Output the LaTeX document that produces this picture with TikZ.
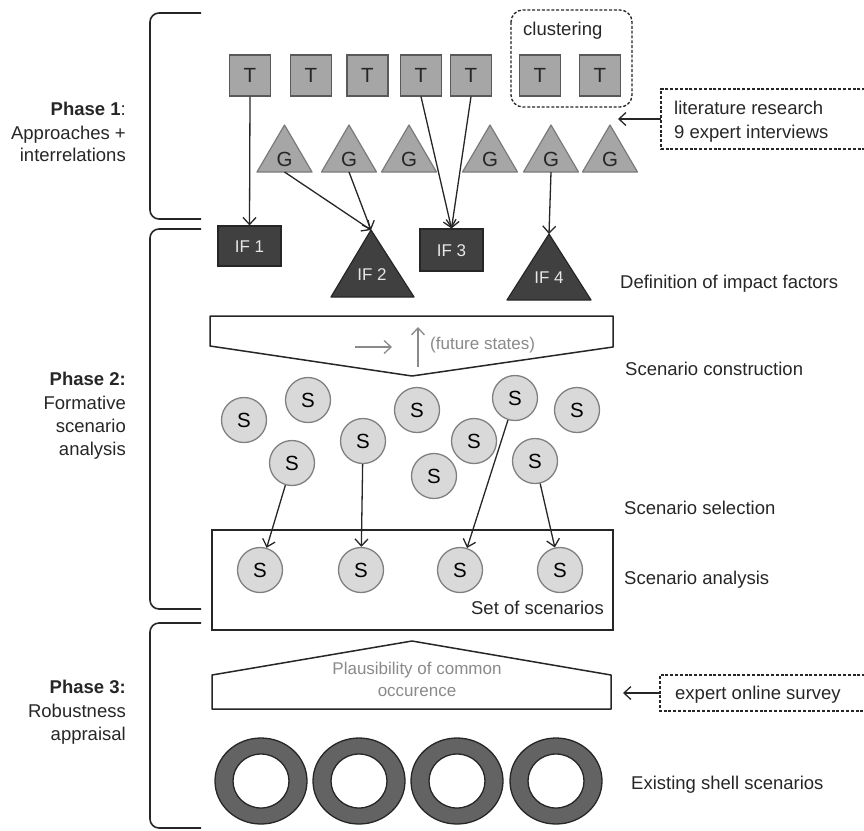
\documentclass[tikz,border=0pt]{standalone}
\usepackage{fontspec}
\setmainfont{Liberation Sans}
\usetikzlibrary{arrows.meta,calc}

\definecolor{ink}{HTML}{262626}
\definecolor{midgray}{HTML}{8A8A8A}
\definecolor{tfill}{HTML}{A6A6A6}
\definecolor{tline}{HTML}{595959}
\definecolor{gline}{HTML}{7A7A7A}
\definecolor{iffill}{HTML}{404040}
\definecolor{ifline}{HTML}{262626}
\definecolor{iftext}{HTML}{E6E6E6}
\definecolor{sfill}{HTML}{D9D9D9}
\definecolor{sline}{HTML}{808080}
\definecolor{ringfill}{HTML}{636363}

\newcommand{\mainsz}{\fontsize{18.5pt}{22pt}\selectfont}
\newcommand{\smallsz}{\fontsize{17pt}{20pt}\selectfont}
\newcommand{\lettersz}{\fontsize{20.5pt}{24pt}\selectfont}

\begin{document}
\begin{tikzpicture}[x=1pt,y=-1pt,
  lbl/.style={inner sep=0pt, text height=13.2pt, text depth=0pt, font=\mainsz, text=ink},
  letter/.style={inner sep=0pt, text height=14.6pt, text depth=0pt, font=\lettersz, text=ink},
  glbl/.style={inner sep=0pt, text height=12.4pt, text depth=0pt, font=\smallsz, text=midgray},
  tbox/.style={draw=tline, fill=tfill, line width=1.2pt, minimum size=41pt, inner sep=0pt,
               text height=14.6pt, text depth=0pt, font=\lettersz, text=ink},
  gshape/.style={draw=gline, fill=tfill, line width=1.2pt, line join=round},
  ifbox/.style={draw=ifline, fill=iffill, line width=1.2pt, minimum width=63pt, inner sep=0pt,
               text height=12.2pt, text depth=0pt, font=\smallsz, text=iftext},
  iftri/.style={draw=ifline, fill=iffill, line width=1.2pt, line join=round},
  scirc/.style={circle, draw=sline, fill=sfill, line width=1.3pt, minimum size=45pt, inner sep=0pt,
               text height=14.6pt, text depth=0pt, font=\lettersz, text=black},
  arr/.style={draw=ink, line width=1.3pt, -{Straight Barb[length=7pt,width=13pt]}},
  garr/.style={draw=midgray, line width=1.3pt, -{Straight Barb[length=7pt,width=13pt]}},
  brk/.style={draw=ink, line width=1.6pt, rounded corners=9pt},
  outline/.style={draw=ink, line width=1.5pt, line join=round},
  dashframe/.style={draw=ink, line width=1.3pt, dash pattern=on 3pt off 1.8pt}
]
\useasboundingbox (0,0) rectangle (864,830);

% ---------- phase brackets ----------
\draw[brk] (201,13) -- (150,13) -- (150,219) -- (201,219);
\draw[brk] (201,229) -- (150,229) -- (150,609) -- (201,609);
\draw[brk] (201,623) -- (150,623) -- (150,828) -- (201,828);

% ---------- phase labels ----------
\node[lbl, anchor=east] (p1a) at (126,109) {\textbf{Phase 1}:};
\node[lbl, anchor=east] (p1b) at (126,133) {Approaches +};
\node[lbl, anchor=east] (p1c) at (126,155) {interrelations};
\node[lbl, anchor=east] (p2a) at (126,379) {\textbf{Phase 2:}};
\node[lbl, anchor=east] (p2b) at (126,403) {Formative};
\node[lbl, anchor=east] (p2c) at (126,426) {scenario};
\node[lbl, anchor=east] (p2d) at (126,449) {analysis};
\node[lbl, anchor=east] (p3a) at (126,687) {\textbf{Phase 3:}};
\node[lbl, anchor=east] (p3b) at (126,711) {Robustness};
\node[lbl, anchor=east] (p3c) at (126,734) {appraisal};

% ---------- approaches (T) ----------
\draw[dashframe, rounded corners=12pt] (511,10) rectangle (632,107);
\node[lbl, anchor=west] (clus) at (523,29) {clustering};
\foreach \i/\x in {1/250,2/311,3/367.5,4/421,5/471,6/540,7/600}
  \node[tbox] (t\i) at (\x,75.5) {T};

% ---------- interrelations (G) ----------
\foreach \i/\x in {1/284.5,2/349,3/409,4/490,5/551,6/610}{
  \draw[gshape] (\x-27.5,172) -- (\x+27.5,172) -- (\x,125) -- cycle;
  \node[letter] (g\i) at (\x,159) {G};
  \coordinate (g\i b) at (\x,172);
}

% ---------- literature / interviews ----------
\draw[dashframe] (870,89) -- (661,89) -- (661,149) -- (870,149);
\node[inner sep=0pt, minimum width=209pt, minimum height=60pt, anchor=west] (lit) at (661,119) {};
\node[lbl, anchor=west] (lit1) at (674,108) {literature research};
\node[lbl, anchor=west] (lit2) at (674,132) {9 expert interviews};
\coordinate (litend) at (618,119);
\draw[arr] (lit.west) -- (litend);

% ---------- impact factors ----------
\node[ifbox, minimum height=40pt] (if1) at (249.5,246) {IF 1};
\node[ifbox, minimum height=42pt] (if3) at (451.5,250) {IF 3};
\draw[iftri] (331,297) -- (414,297) -- (371,230) -- cycle;
\coordinate (if2top) at (371,230);
\node[lbl, font=\smallsz, text=iftext, text height=12.2pt] (if2) at (372,274) {IF 2};
\draw[iftri] (507,300) -- (591,300) -- (549,234) -- cycle;
\coordinate (if4top) at (549,234);
\node[lbl, font=\smallsz, text=iftext, text height=12.2pt] (if4) at (549,277) {IF 4};

\draw[arr] (t1.south) -- (if1.north);
\draw[arr] (g1b) -- (if2top);
\draw[arr] (g2b) -- (if2top);
\draw[arr] (t4.south) -- (if3.north);
\draw[arr] (t5.south) -- (if3.north);
\draw[arr] (g5b) -- (if4top);

\node[lbl, anchor=west] (defif) at (620,282) {Definition of impact factors};

% ---------- scenario construction funnel ----------
\draw[outline, fill=white] (210,316) -- (613,316) -- (613,347) -- (412,376) -- (210,346) -- cycle;
\coordinate (ha) at (355,347);
\coordinate (hb) at (392,347);
\coordinate (va) at (418,367);
\coordinate (vb) at (418,327);
\draw[garr] (ha) -- (hb);
\draw[garr] (va) -- (vb);
\node[glbl, anchor=west] (fut) at (430,343) {(future states)};
\node[lbl, anchor=west] (scon) at (625,369) {Scenario construction};

% ---------- scenario cloud ----------
\foreach \i/\x/\y in {1/244/420, 2/308/400, 3/417/410, 4/515/398, 5/577/410,
                      6/292/463, 7/363/441, 8/474/441, 9/434/476, 10/535/461}
  \node[scirc] (s\i) at (\x,\y) {S};

\node[lbl, anchor=west] (ssel) at (624,508) {Scenario selection};

% ---------- set of scenarios ----------
\node[draw=ink, line width=1.5pt, minimum width=401pt, minimum height=100pt, inner sep=0pt]
  (setbox) at (412.5,580) {};
\foreach \i/\x in {1/260,2/361,3/460,4/560}
  \node[scirc] (b\i) at (\x,570) {S};
\node[lbl, anchor=east] (settxt) at (604,608) {Set of scenarios};
\node[lbl, anchor=west] (sana) at (624,578) {Scenario analysis};

\draw[arr] (s6) -- (b1);
\draw[arr] (s7) -- (b2);
\draw[arr] (s4) -- (b3);
\draw[arr] (s10) -- (b4);

% ---------- robustness appraisal ----------
\draw[outline, fill=white] (212,709) -- (212,675) -- (412,641) -- (611,675) -- (611,709) -- cycle;
\node[glbl] (pl1) at (417,668) {Plausibility of common};
\node[glbl] (pl2) at (417,690) {occurence};

\draw[dashframe] (870,675) -- (660,675) -- (660,711) -- (870,711);
\node[inner sep=0pt, minimum width=210pt, minimum height=36pt, anchor=west] (survey) at (660,693) {};
\node[lbl, anchor=west] (survtxt) at (675,693) {expert online survey};
\coordinate (survend) at (623,693);
\draw[arr] (survey.west) -- (survend);

% ---------- shell scenarios ----------
\foreach \x in {261,359,457,556}
  \filldraw[even odd rule, fill=ringfill, draw=ink, line width=1.3pt]
    (\x,781) ellipse [x radius=46pt, y radius=43pt]
    (\x,781) ellipse [x radius=28pt, y radius=27pt];
\node[lbl, anchor=west] (shell) at (631,783) {Existing shell scenarios};

\end{tikzpicture}
\end{document}
